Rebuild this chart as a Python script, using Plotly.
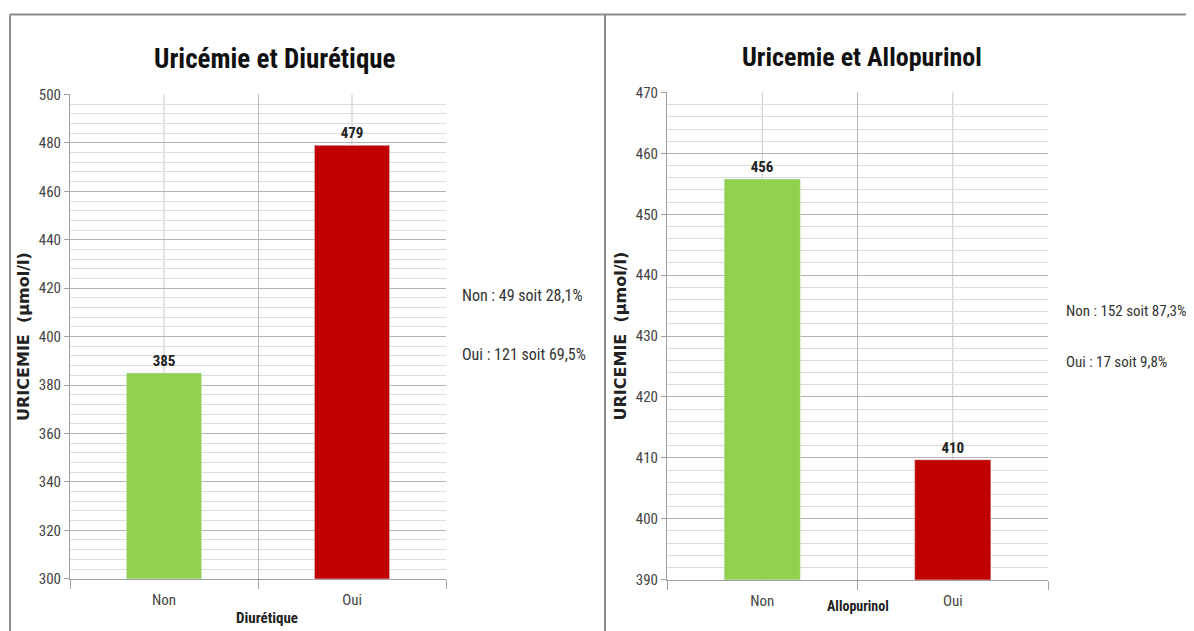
import plotly.graph_objects as go

categories = ["Non", "Oui"]
diuretique_values = [385, 479]
allopurinol_values = [455.8, 409.7]
bar_colors = ["#92D050", "#C00000"]
titles = ["Uricémie et Diurétique", "Uricemie et Allopurinol"]
x_titles = ["Diurétique", "Allopurinol"]
y_title = "URICEMIE  (µmol/l)"
notes_left = ["Non : 49 soit 28,1%", "Oui : 121 soit 69,5%"]
notes_right = ["Non : 152 soit 87,3%", "Oui : 17 soit 9,8%"]

W, H = 1194, 631
FONT = "Liberation Sans Narrow, Arial Narrow, Roboto Condensed, Liberation Sans, sans-serif"
WIDE = "DejaVu Sans, Verdana, sans-serif"

# screen-pixel -> paper-fraction helpers (calibrated to the rendering)
X_OFF, Y_OFF, Y_SPAN = 8.0, 16.4, 614.0

def px(x):
    return (x - X_OFF) / W

def py(y):
    return 1 - (y - Y_OFF) / Y_SPAN

fig = go.Figure()

label_font = dict(family=FONT, size=15, color="#222", weight="bold")
fig.add_trace(go.Bar(x=categories, y=diuretique_values, marker_color=bar_colors,
                     width=0.4, text=[f"{v:.0f}" for v in diuretique_values],
                     textposition="outside", cliponaxis=False, textfont=label_font,
                     xaxis="x", yaxis="y", showlegend=False))
fig.add_trace(go.Bar(x=categories, y=allopurinol_values, marker_color=bar_colors,
                     width=0.4, text=[f"{v:.0f}" for v in allopurinol_values],
                     textposition="outside", cliponaxis=False, textfont=label_font,
                     xaxis="x2", yaxis="y2", showlegend=False))

xcommon = dict(type="category", tickson="boundaries", showgrid=True, gridcolor="#B8B8B8",
               gridwidth=1, ticks="outside", ticklen=9, tickcolor="#A0A0A0",
               showline=True, linecolor="#A0A0A0", linewidth=1,
               tickfont=dict(family=FONT, size=15, color="#444"), ticklabelstandoff=7,
               fixedrange=True)
ycommon = dict(showgrid=True, gridcolor="#B4B4B4", gridwidth=1, ticks="outside", ticklen=5,
               tickcolor="#A0A0A0", showline=True, linecolor="#A0A0A0", linewidth=1,
               tickfont=dict(family=FONT, size=15, color="#444"), zeroline=False,
               fixedrange=True)
ytitle = dict(text=y_title, standoff=5,
              font=dict(family=WIDE, size=16, color="#222", weight="bold"))

fig.update_layout(
    width=W, height=H, margin=dict(l=0, r=0, t=0, b=0),
    paper_bgcolor="white", plot_bgcolor="white",
    xaxis=dict(xcommon, domain=[px(70), px(446)], anchor="y"),
    yaxis=dict(ycommon, domain=[py(579), py(94)], anchor="x", range=[300, 500], dtick=20,
               minor=dict(dtick=4, showgrid=True, gridcolor="#DCDCDC", gridwidth=1),
               title=ytitle),
    xaxis2=dict(xcommon, domain=[px(667), px(1048)], anchor="y2"),
    yaxis2=dict(ycommon, domain=[py(580), py(92)], anchor="x2", range=[390, 470], dtick=10,
                minor=dict(dtick=2, showgrid=True, gridcolor="#DCDCDC", gridwidth=1),
                title=ytitle),
)

# vertical lines at category centers
for xr, yr in (("x", "y domain"), ("x2", "y2 domain")):
    for c in categories:
        fig.add_shape(type="line", xref=xr, yref=yr, x0=c, x1=c, y0=0, y1=1,
                      line=dict(color="#C8C8C8", width=1), layer="below")

# panel borders
border = dict(color="#8C8C8C", width=2)
fig.add_shape(type="line", xref="paper", yref="paper", x0=px(10), x1=1.02, y0=py(14), y1=py(14), line=border)
fig.add_shape(type="line", xref="paper", yref="paper", x0=px(10), x1=px(10), y0=-0.05, y1=py(14), line=border)
fig.add_shape(type="line", xref="paper", yref="paper", x0=px(605), x1=px(605), y0=-0.05, y1=py(14), line=border)

# titles
fig.add_annotation(text=titles[0], xref="paper", yref="paper", x=px(275), y=py(58),
                   showarrow=False, xanchor="center", yanchor="middle",
                   font=dict(family=FONT, size=27, color="#111", weight="bold"))
fig.add_annotation(text=titles[1], xref="paper", yref="paper", x=px(862), y=py(56),
                   showarrow=False, xanchor="center", yanchor="middle",
                   font=dict(family=FONT, size=26, color="#111", weight="bold"))

# x axis titles
fig.add_annotation(text=x_titles[0], xref="paper", yref="paper", x=px(267), y=py(618),
                   showarrow=False, xanchor="center", yanchor="middle",
                   font=dict(family=FONT, size=15, color="#222", weight="bold"))
fig.add_annotation(text=x_titles[1], xref="paper", yref="paper", x=px(858), y=py(606),
                   showarrow=False, xanchor="center", yanchor="middle",
                   font=dict(family=FONT, size=14, color="#222", weight="bold"))

# side notes
for t, yy in zip(notes_left, [295, 354]):
    fig.add_annotation(text=t, xref="paper", yref="paper", x=px(460), y=py(yy),
                       showarrow=False, xanchor="left", yanchor="middle",
                       font=dict(family=FONT, size=16, color="#333"))
for t, yy in zip(notes_right, [311, 362]):
    fig.add_annotation(text=t, xref="paper", yref="paper", x=px(1064), y=py(yy),
                       showarrow=False, xanchor="left", yanchor="middle",
                       font=dict(family=FONT, size=15, color="#333"))

fig.write_html("out.html")
